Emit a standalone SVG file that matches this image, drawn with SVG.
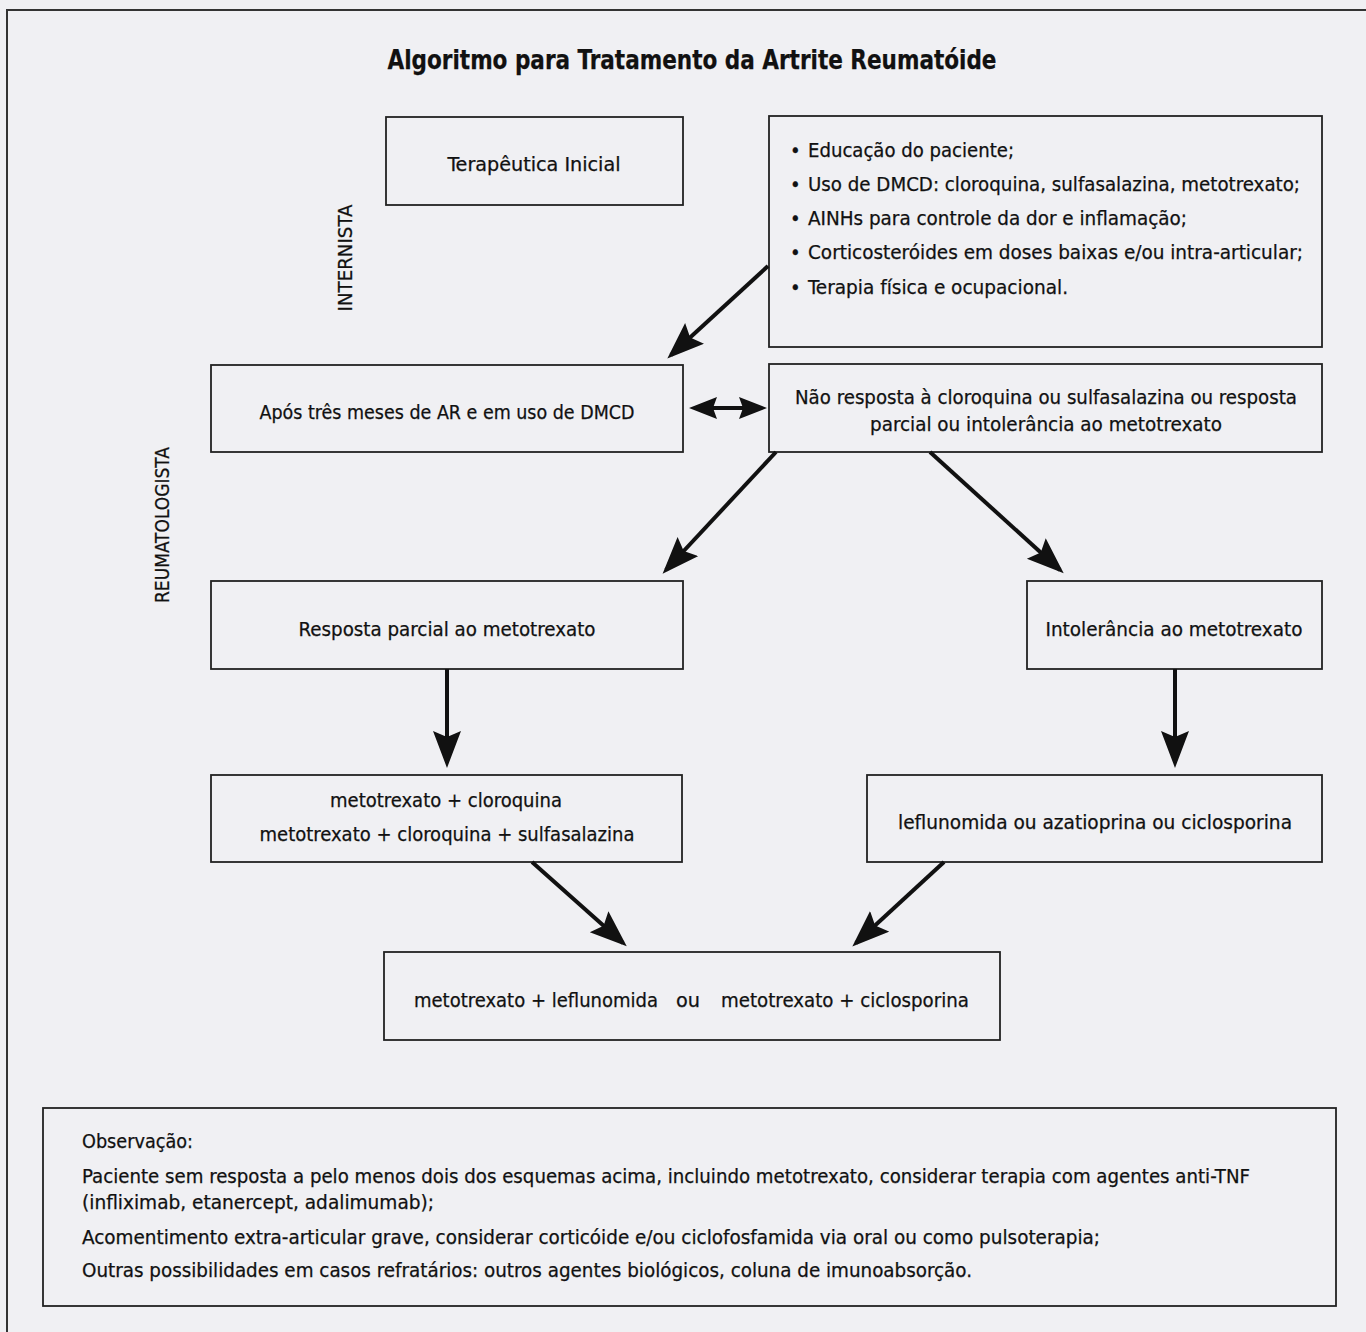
<svg xmlns="http://www.w3.org/2000/svg" width="1366" height="1332" viewBox="0 0 1366 1332">
<style>
text{font-family:"Liberation Sans Narrow","DejaVu Sans Condensed","Liberation Sans",sans-serif;fill:#111;font-size:20px;stroke:#111;stroke-width:0.25}
.c{text-anchor:middle}
.box{fill:none;stroke:#222;stroke-width:1.8}
.ar{stroke:#111;stroke-width:4;fill:none}
.title{font-size:27px;font-weight:bold}
</style>
<defs>
<marker id="ah" markerUnits="userSpaceOnUse" markerWidth="40" markerHeight="30" refX="32" refY="14" orient="auto-start-reverse" viewBox="0 0 40 30">
<path d="M0,0 L37,14 L0,28 L6,14 Z" fill="#111"/>
</marker>
<marker id="ahs" markerUnits="userSpaceOnUse" markerWidth="30" markerHeight="24" refX="23" refY="11" orient="auto-start-reverse" viewBox="0 0 30 24">
<path d="M0,0 L28,11 L0,22 L4,11 Z" fill="#111"/>
</marker>
</defs>
<rect x="0" y="0" width="1366" height="1332" fill="#f0f0f3"/>
<path d="M7,1332 L7,10 L1366,10" fill="none" stroke="#333" stroke-width="2"/>
<text class="title c" x="692" y="69" textLength="609" lengthAdjust="spacingAndGlyphs">Algoritmo para Tratamento da Artrite Reumatóide</text>
<g id="label-internista"><text class="c" transform="translate(352,258) rotate(-90)" textLength="107" lengthAdjust="spacingAndGlyphs">INTERNISTA</text></g>
<g id="label-reumatologista"><text class="c" transform="translate(169,525) rotate(-90)" textLength="156" lengthAdjust="spacingAndGlyphs">REUMATOLOGISTA</text></g>
<g id="n-terapeutica"><rect class="box" x="386" y="117" width="297" height="88"/><text class="c" x="534" y="171" textLength="173" lengthAdjust="spacingAndGlyphs">Terapêutica Inicial</text></g>
<g id="n-bullets"><rect class="box" x="769" y="116" width="553" height="231"/>
<text x="790" y="157">•</text><text x="808" y="157" textLength="206" lengthAdjust="spacingAndGlyphs">Educação do paciente;</text>
<text x="790" y="191">•</text><text x="808" y="191" textLength="492" lengthAdjust="spacingAndGlyphs">Uso de DMCD: cloroquina, sulfasalazina, metotrexato;</text>
<text x="790" y="225">•</text><text x="808" y="225" textLength="379" lengthAdjust="spacingAndGlyphs">AINHs para controle da dor e inflamação;</text>
<text x="790" y="259">•</text><text x="808" y="259" textLength="495" lengthAdjust="spacingAndGlyphs">Corticosteróides em doses baixas e/ou intra-articular;</text>
<text x="790" y="294">•</text><text x="808" y="294" textLength="260" lengthAdjust="spacingAndGlyphs">Terapia física e ocupacional.</text>
</g>
<g id="n-apos"><rect class="box" x="211" y="365" width="472" height="87"/><text class="c" x="447" y="419" textLength="375" lengthAdjust="spacingAndGlyphs">Após três meses de AR e em uso de DMCD</text></g>
<g id="n-naoresposta"><rect class="box" x="769" y="364" width="553" height="88"/>
<text class="c" x="1046" y="404" textLength="502" lengthAdjust="spacingAndGlyphs">Não resposta à cloroquina ou sulfasalazina ou resposta</text>
<text class="c" x="1046" y="431" textLength="352" lengthAdjust="spacingAndGlyphs">parcial ou intolerância ao metotrexato</text></g>
<g id="n-parcial"><rect class="box" x="211" y="581" width="472" height="88"/><text class="c" x="447" y="636" textLength="297" lengthAdjust="spacingAndGlyphs">Resposta parcial ao metotrexato</text></g>
<g id="n-intolerancia"><rect class="box" x="1027" y="581" width="295" height="88"/><text class="c" x="1174" y="636" textLength="257" lengthAdjust="spacingAndGlyphs">Intolerância ao metotrexato</text></g>
<g id="n-mtxclq"><rect class="box" x="211" y="775" width="471" height="87"/>
<text class="c" x="446" y="807" textLength="232" lengthAdjust="spacingAndGlyphs">metotrexato + cloroquina</text>
<text class="c" x="447" y="841" textLength="375" lengthAdjust="spacingAndGlyphs">metotrexato + cloroquina + sulfasalazina</text></g>
<g id="n-leflunomida"><rect class="box" x="867" y="775" width="455" height="87"/><text class="c" x="1095" y="829" textLength="394" lengthAdjust="spacingAndGlyphs">leflunomida ou azatioprina ou ciclosporina</text></g>
<g id="n-mtxlef"><rect class="box" x="384" y="952" width="616" height="88"/>
<text x="414" y="1007" textLength="244" lengthAdjust="spacingAndGlyphs">metotrexato + leflunomida</text>
<text x="676" y="1007" textLength="24" lengthAdjust="spacingAndGlyphs">ou</text>
<text x="721" y="1007" textLength="248" lengthAdjust="spacingAndGlyphs">metotrexato + ciclosporina</text></g>
<g id="n-observacao"><rect class="box" x="43" y="1108" width="1293" height="198"/>
<text x="82" y="1148" textLength="111" lengthAdjust="spacingAndGlyphs">Observação:</text>
<text x="82" y="1183" textLength="1168" lengthAdjust="spacingAndGlyphs">Paciente sem resposta a pelo menos dois dos esquemas acima, incluindo metotrexato, considerar terapia com agentes anti-TNF</text>
<text x="82" y="1209" textLength="352" lengthAdjust="spacingAndGlyphs">(infliximab, etanercept, adalimumab);</text>
<text x="82" y="1244" textLength="1018" lengthAdjust="spacingAndGlyphs">Acomentimento extra-articular grave, considerar corticóide e/ou ciclofosfamida via oral ou como pulsoterapia;</text>
<text x="82" y="1277" textLength="890" lengthAdjust="spacingAndGlyphs">Outras possibilidades em casos refratários: outros agentes biológicos, coluna de imunoabsorção.</text></g>
<g id="connectors">
<line class="ar" x1="768" y1="266" x2="671" y2="355" marker-end="url(#ah)"/>
<line class="ar" x1="694" y1="408" x2="762" y2="408" stroke-width="3" marker-start="url(#ahs)" marker-end="url(#ahs)"/>
<line class="ar" x1="776" y1="452" x2="666" y2="570" marker-end="url(#ah)"/>
<line class="ar" x1="930" y1="452" x2="1060" y2="570" marker-end="url(#ah)"/>
<line class="ar" x1="447" y1="669" x2="447" y2="763" marker-end="url(#ah)"/>
<line class="ar" x1="1175" y1="669" x2="1175" y2="763" marker-end="url(#ah)"/>
<line class="ar" x1="532" y1="862" x2="623" y2="943" marker-end="url(#ah)"/>
<line class="ar" x1="944" y1="862" x2="856" y2="943" marker-end="url(#ah)"/>
</g>
</svg>
